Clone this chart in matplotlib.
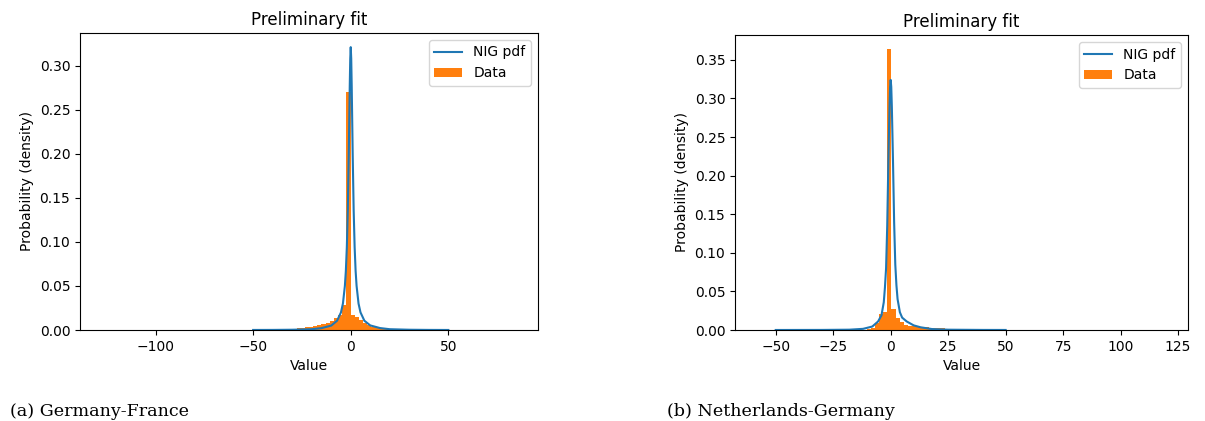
import numpy as np
import matplotlib
matplotlib.use("Agg")
import matplotlib.pyplot as plt

# ---------------- Germany-France ----------------
gf_range = (-128.03, 85.27)        # min / max of the price differences
gf_nbins = 100
gf_first_bin = 38                  # index of first non-empty bin
gf_density = [0.0002, 0.0003, 0.0004, 0.0005, 0.0006, 0.0008, 0.0010, 0.0013,
              0.0016, 0.0020, 0.0026, 0.0032, 0.0038, 0.0046, 0.0056, 0.0068,
              0.0085, 0.0105, 0.0132, 0.0170, 0.0280, 0.2700, 0.0170, 0.0145,
              0.0110, 0.0078, 0.0052, 0.0038, 0.0028, 0.0019, 0.0013, 0.0009,
              0.0006, 0.0004, 0.0003, 0.0002]
gf_pdf_x = [-50, -40, -30, -20, -15, -10, -7, -5, -4, -3, -2.5, -2, -1.5,
            -1, -0.5, -0.25, 0, 0.25, 0.5, 1, 1.5, 2, 2.5, 3, 4, 5, 7, 10, 15,
            20, 30, 40, 50]
gf_pdf_y = [0.00005, 0.0001, 0.0003, 0.0009, 0.0021, 0.0050, 0.0105, 0.020,
            0.030, 0.050, 0.067, 0.094, 0.136, 0.200, 0.277, 0.308, 0.321, 0.308,
            0.277, 0.200, 0.136, 0.094, 0.067, 0.050, 0.030, 0.020, 0.0105,
            0.0052, 0.0022, 0.0009, 0.0003, 0.0001, 0.00003]

# ---------------- Netherlands-Germany ----------------
ng_range = (-58.75, 120.35)
ng_nbins = 100
ng_first_bin = 26
ng_density = [0.0003, 0.0008, 0.0020, 0.0085, 0.0210, 0.0230, 0.3640, 0.0270,
              0.0150, 0.0110, 0.0065, 0.0050, 0.0048, 0.0042, 0.0038, 0.0035,
              0.0032, 0.0030, 0.0026, 0.0022, 0.0004, 0.0002]
ng_pdf_x = [-50, -30, -18, -12, -8, -5.5, -4, -3, -2.5, -2, -1.5, -1, -0.5,
            -0.25, 0, 0.25, 0.5, 1, 1.5, 2, 2.5, 3, 4, 5, 7, 10, 13, 18, 25, 40,
            50]
ng_pdf_y = [0.00002, 0.0001, 0.0004, 0.0015, 0.0045, 0.011, 0.019, 0.036, 0.055,
            0.080, 0.135, 0.220, 0.290, 0.315, 0.324, 0.315, 0.290, 0.220, 0.140,
            0.085, 0.058, 0.040, 0.023, 0.016, 0.011, 0.006, 0.0035, 0.0012,
            0.0004, 0.0001, 0.00005]

captions = ["(a) Germany-France", "(b) Netherlands-Germany"]

W, H = 1205, 421
fig = plt.figure(figsize=(W / 100, H / 100), dpi=100)


def px_axes(left, top, right, bottom):
    return fig.add_axes([left / W, 1 - bottom / H, (right - left) / W, (bottom - top) / H])


def draw_panel(ax, rng, nbins, first, dens, px, py):
    edges = np.linspace(rng[0], rng[1], nbins + 1)
    heights = np.zeros(nbins)
    heights[first:first + len(dens)] = dens
    ax.plot(px, py, color="C0", lw=1.5, label="NIG pdf")
    ax.bar(edges[:-1], heights, width=np.diff(edges), align="edge",
           color="C1", linewidth=0, label="Data")
    ax.set_title("Preliminary fit", fontsize=12)
    ax.set_xlabel("Value", fontsize=10)
    ax.set_ylabel("Probability (density)", fontsize=10)
    ax.tick_params(labelsize=10)
    ax.legend(loc="upper right", fontsize=10)


ax1 = px_axes(80, 33, 538, 330)
draw_panel(ax1, gf_range, gf_nbins, gf_first_bin, gf_density, gf_pdf_x, gf_pdf_y)

ax2 = px_axes(735, 35, 1188, 330)
draw_panel(ax2, ng_range, ng_nbins, ng_first_bin, ng_density, ng_pdf_x, ng_pdf_y)
ax2.set_xticks([-50, -25, 0, 25, 50, 75, 100, 125])

fig.text(10 / W, 1 - 411 / H, captions[0], family="DejaVu Serif",
         fontsize=12.6, va="center", ha="left")
fig.text(667 / W, 1 - 411 / H, captions[1], family="DejaVu Serif",
         fontsize=12.6, va="center", ha="left")

fig.savefig("out.png", dpi=100)
